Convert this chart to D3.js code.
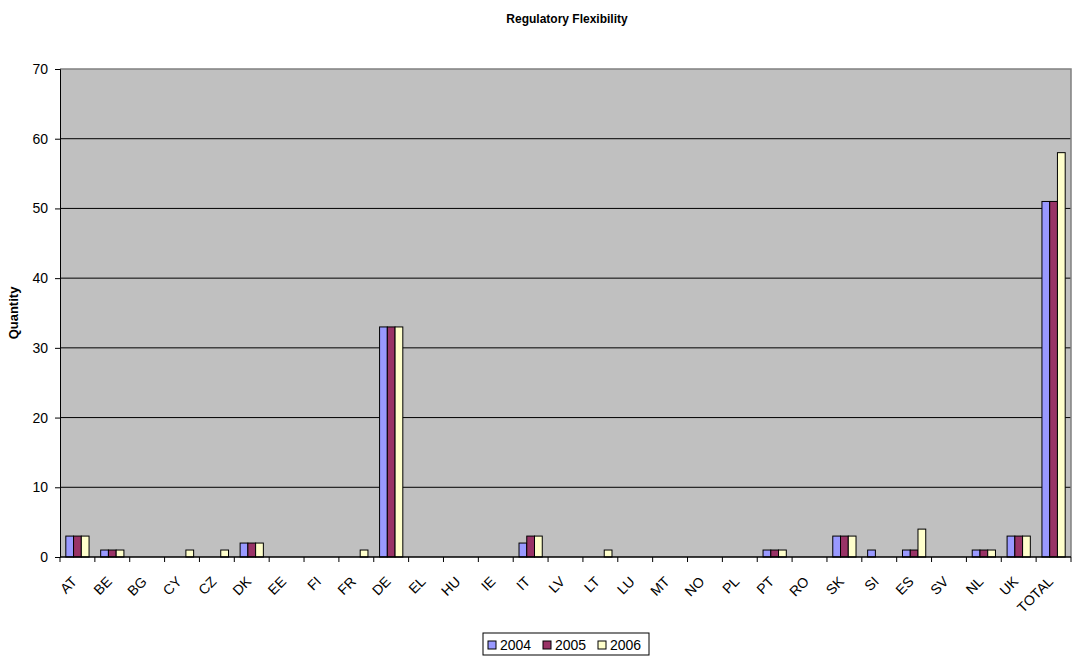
<!DOCTYPE html>
<html><head><meta charset="utf-8">
<script src="https://cdn.jsdelivr.net/npm/d3@7"></script>
<style>body{margin:0;background:#fff}svg{display:block;font-family:"Liberation Sans",Arial,sans-serif}</style>
</head><body><svg id="c" width="1072" height="659"></svg>
<script>
const categories = ["AT","BE","BG","CY","CZ","DK","EE","FI","FR","DE","EL","HU","IE","IT","LV","LT","LU","MT","NO","PL","PT","RO","SK","SI","ES","SV","NL","UK","TOTAL"];
const years = ["2004","2005","2006"];
const v2004 = [3,1,0,0,0,2,0,0,0,33,0,0,0,2,0,0,0,0,0,0,1,0,3,1,1,0,1,3,51];
const v2005 = [3,1,0,0,0,2,0,0,0,33,0,0,0,3,0,0,0,0,0,0,1,0,3,0,1,0,1,3,51];
const v2006 = [3,1,0,1,1,2,0,0,1,33,0,0,0,3,0,1,0,0,0,0,1,0,3,0,4,0,1,3,58];
const yTicks = [0,10,20,30,40,50,60,70];
const colors = ["#9999FF","#993366","#FFFFCC"];
const series = [v2004, v2005, v2006];

const svg = d3.select("#c");
const L = 60, R = 1071, T = 69, B = 557;
const x = d3.scaleBand().domain(categories).range([L, R]).padding(0);
const y = d3.scaleLinear().domain([0,70]).range([B, T]);
const bw = x.bandwidth()/4.5;

svg.append("rect").attr("x",L).attr("y",T).attr("width",R-L).attr("height",B-T).attr("fill","#C0C0C0");
svg.append("g").selectAll("line").data(yTicks.filter(d=>d>0&&d<70)).join("line")
  .attr("x1",L).attr("x2",R).attr("y1",d=>y(d)).attr("y2",d=>y(d)).attr("stroke","#000").attr("stroke-width",1);
svg.append("path").attr("d",`M${L},${T}H${R}V${B}`).attr("fill","none").attr("stroke","#808080").attr("stroke-width",1.5);

series.forEach((s,i)=>{
  svg.append("g").selectAll("rect").data(categories.map((c,j)=>({c,v:s[j]})).filter(d=>d.v>0)).join("rect")
    .attr("x",d=>x(d.c)+0.75*bw+i*bw).attr("width",bw)
    .attr("y",d=>y(d.v)).attr("height",d=>B-y(d.v))
    .attr("fill",colors[i]).attr("stroke","#000").attr("stroke-width",1);
});

const ya = svg.append("g").attr("transform",`translate(${L},0)`)
  .call(d3.axisLeft(y).tickValues(yTicks).tickSize(5).tickPadding(7));
ya.select(".domain").attr("stroke","#000");
ya.selectAll("text").attr("font-size",14).attr("font-family","Liberation Sans, Arial").attr("fill","#000");

const xa = svg.append("g").attr("transform",`translate(0,${B})`);
xa.append("line").attr("x1",L).attr("x2",R).attr("y1",0).attr("y2",0).attr("stroke","#000").attr("stroke-width",1.5);
xa.selectAll("line.t").data(d3.range(categories.length+1)).join("line").attr("class","t")
  .attr("x1",i=>L+i*x.bandwidth()).attr("x2",i=>L+i*x.bandwidth()).attr("y1",0).attr("y2",5).attr("stroke","#000");
xa.selectAll("text").data(categories).join("text")
  .attr("transform",d=>`translate(${x(d)+x.bandwidth()/2-3},${22}) rotate(-45)`)
  .attr("text-anchor","end").attr("font-size",14).attr("dy","0.35em").text(d=>d);

svg.append("text").attr("x",567).attr("y",23).attr("text-anchor","middle").attr("font-weight","bold").attr("font-size",12).text("Regulatory Flexibility");
svg.append("text").attr("transform","translate(18,313) rotate(-90)").attr("text-anchor","middle").attr("font-weight","bold").attr("font-size",13).text("Quantity");

const lg = svg.append("g");
lg.append("rect").attr("x",483).attr("y",633).attr("width",166).attr("height",22).attr("fill","#fff").attr("stroke","#000");
years.forEach((yr,i)=>{
  const gx = 488 + i*55;
  lg.append("rect").attr("x",gx).attr("y",641).attr("width",8).attr("height",8).attr("fill",colors[i]).attr("stroke","#000");
  lg.append("text").attr("x",gx+12).attr("y",649.5).attr("font-size",14).text(yr);
});
</script></body></html>
